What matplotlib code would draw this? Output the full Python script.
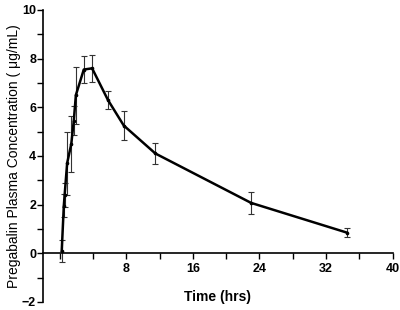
import numpy as np
import matplotlib.pyplot as plt
from matplotlib.ticker import MultipleLocator

plt.rcParams['font.family'] = ['Liberation Sans', 'DejaVu Sans']

# mean plasma concentration vs time
time_hrs = [0.25, 0.5, 0.6, 0.9, 1.4, 1.7, 1.95, 2.9, 3.9, 5.8, 7.7, 11.5, 23, 34.5]
conc = [0.1, 1.95, 2.4, 3.7, 4.5, 5.45, 6.5, 7.55, 7.6, 6.3, 5.25, 4.1, 2.07, 0.85]
sd = [0.46, 0.48, 0.5, 1.3, 1.15, 0.6, 1.17, 0.55, 0.55, 0.36, 0.58, 0.45, 0.46, 0.19]

fig = plt.figure(figsize=(4, 3.1), dpi=100)
ax = fig.add_axes([0.1075, 0.026, 0.874, 0.942])

ax.errorbar(time_hrs, conc, yerr=sd, color='black', lw=1.8, marker='o', ms=1.6,
            elinewidth=0.8, capsize=2, capthick=0.8, ecolor='#333333')

ax.set_xlim(-2, 40)
ax.set_ylim(-2, 10)
ax.spines['top'].set_visible(False)
ax.spines['right'].set_visible(False)
ax.spines['bottom'].set_position(('data', 0))
ax.spines['left'].set_linewidth(1.2)
ax.spines['bottom'].set_linewidth(1.2)

ax.set_xticks([8, 16, 24, 32, 40])
ax.xaxis.set_minor_locator(MultipleLocator(4))
ax.set_yticks([-2, 0, 2, 4, 6, 8, 10])
ax.yaxis.set_minor_locator(MultipleLocator(1))
ax.tick_params(axis='both', which='both', direction='out', width=1, labelsize=9)
ax.tick_params(axis='both', which='major', length=4)
ax.tick_params(axis='both', which='minor', length=4)
ax.tick_params(axis='x', pad=3)
ax.tick_params(axis='y', pad=1)
for lab in ax.get_xticklabels() + ax.get_yticklabels():
    lab.set_fontweight('bold')

ax.set_xlabel('Time (hrs)', fontsize=10, fontweight='bold')
ax.xaxis.set_label_coords(0.5, 0.04)
ax.set_ylabel('Pregabalin Plasma Concentration ( μg/mL)', fontsize=10, labelpad=1)

fig.savefig('out.png', dpi=100)
